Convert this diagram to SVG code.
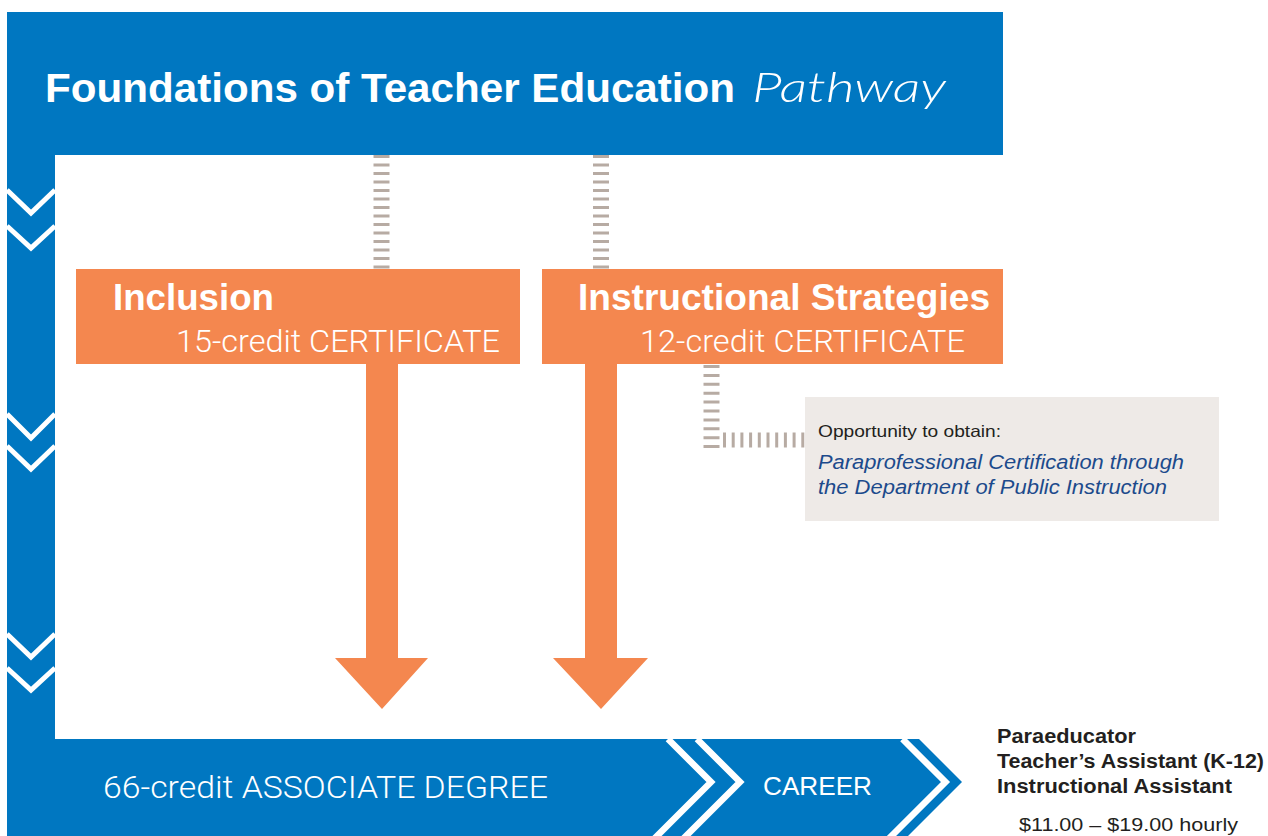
<svg xmlns="http://www.w3.org/2000/svg" width="1268" height="836" viewBox="0 0 1268 836">
<style>
.blue{fill:#0077c1}
.orange{fill:#f4874f}
.chev{fill:none;stroke:#fff;stroke-width:5;stroke-linejoin:miter}
.stripe{fill:none;stroke:#fff;stroke-width:6.5;stroke-linejoin:miter}
.dash{stroke:#b7aba3;fill:none}
.bold{font-family:"Liberation Sans",Arial,sans-serif;font-weight:bold;fill:#fff}
.light{font-family:Roboto,"Liberation Sans",sans-serif;font-weight:300;fill:#fff}
.dark{font-family:"Liberation Sans",Arial,sans-serif;fill:#231f20}
</style>
<rect width="1268" height="836" fill="#fff"/>
<g id="frame">
<rect class="blue" x="7" y="12" width="996" height="143"/>
<rect class="blue" x="7" y="154" width="48" height="590"/>
<polygon class="blue" points="7,739 919,739 962,782 900,844 7,844"/>
<polyline class="chev" points="7,190 31,213 55,190"/>
<polyline class="chev" points="7,226 31,248 55,226"/>
<polyline class="chev" points="7,414 31,438 55,414"/>
<polyline class="chev" points="7,446 31,469 55,446"/>
<polyline class="chev" points="7,634 31,657 55,634"/>
<polyline class="chev" points="7,668 31,690 55,668"/>
<polyline class="stripe" points="668,739 711,782 654,839"/>
<polyline class="stripe" points="697,739 740,782 683,839"/>
<polyline class="stripe" points="902.5,739 945.5,782 888.5,839"/>
</g>
<g id="title">
<text class="bold" x="45" y="102" font-size="40" textLength="690" lengthAdjust="spacingAndGlyphs">Foundations of Teacher Education</text>
<text x="752" y="102" font-size="42" font-style="italic" font-family="Lato,'Open Sans',sans-serif" font-weight="300" fill="#fff" textLength="194" lengthAdjust="spacingAndGlyphs">Pathway</text>
</g>
<g id="connectors">
<line class="dash" x1="381.5" y1="155" x2="381.5" y2="270" stroke-width="16" stroke-dasharray="3 5.5"/>
<line class="dash" x1="601" y1="155" x2="601" y2="270" stroke-width="16" stroke-dasharray="3 5.5"/>
<line class="dash" x1="711.5" y1="365" x2="711.5" y2="449" stroke-width="16" stroke-dasharray="3 5.9"/>
<line class="dash" x1="723" y1="440" x2="806" y2="440" stroke-width="15" stroke-dasharray="3 5.7"/>
<polygon class="orange" points="366,364 398,364 398,658 428,658 382,709 335,658 366,658"/>
<polygon class="orange" points="585,364 617,364 617,658 648,658 601,709 553,658 585,658"/>
</g>
<g id="inclusion">
<rect class="orange" x="76" y="269" width="444" height="95"/>
<text class="bold" x="113" y="310" font-size="36.5" textLength="161" lengthAdjust="spacingAndGlyphs">Inclusion</text>
<text class="light" x="176" y="352" font-size="31" textLength="324" lengthAdjust="spacingAndGlyphs">15-credit CERTIFICATE</text>
</g>
<g id="strategies">
<rect class="orange" x="542" y="269" width="461" height="95"/>
<text class="bold" x="578" y="310" font-size="36.5" textLength="412" lengthAdjust="spacingAndGlyphs">Instructional Strategies</text>
<text class="light" x="640" y="352" font-size="31" textLength="325" lengthAdjust="spacingAndGlyphs">12-credit CERTIFICATE</text>
</g>
<g id="opportunity">
<rect x="805" y="397" width="414" height="124" fill="#eeeae7"/>
<text class="dark" x="818" y="437" font-size="16.5" textLength="183" lengthAdjust="spacingAndGlyphs">Opportunity to obtain:</text>
<text x="818" y="469" font-size="19.5" font-style="italic" font-family="'Liberation Sans',Arial,sans-serif" fill="#1c4a8c" textLength="366" lengthAdjust="spacingAndGlyphs">Paraprofessional Certification through</text>
<text x="818" y="494" font-size="19.5" font-style="italic" font-family="'Liberation Sans',Arial,sans-serif" fill="#1c4a8c" textLength="349" lengthAdjust="spacingAndGlyphs">the Department of Public Instruction</text>
</g>
<g id="degree">
<text class="light" x="103" y="798" font-size="31" textLength="445" lengthAdjust="spacingAndGlyphs">66-credit ASSOCIATE DEGREE</text>
</g>
<g id="career">
<text x="763" y="795" font-size="26" font-family="'Liberation Sans',Arial,sans-serif" fill="#fff" textLength="109" lengthAdjust="spacingAndGlyphs">CAREER</text>
</g>
<g id="jobs">
<text class="dark" x="997" y="743" font-size="19.5" font-weight="bold" textLength="139" lengthAdjust="spacingAndGlyphs">Paraeducator</text>
<text class="dark" x="997" y="768" font-size="19.5" font-weight="bold" textLength="267" lengthAdjust="spacingAndGlyphs">Teacher’s Assistant (K-12)</text>
<text class="dark" x="997" y="793" font-size="19.5" font-weight="bold" textLength="235" lengthAdjust="spacingAndGlyphs">Instructional Assistant</text>
<text class="dark" x="1019" y="831" font-size="18.5" textLength="219" lengthAdjust="spacingAndGlyphs">$11.00 – $19.00 hourly</text>
</g>
</svg>
